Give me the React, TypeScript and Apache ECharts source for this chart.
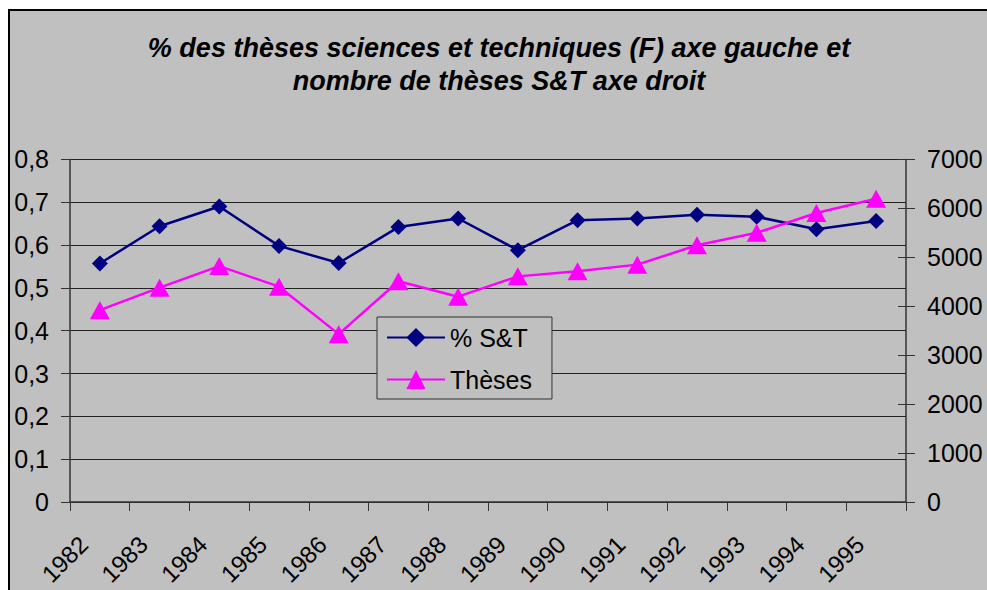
import React, { useEffect, useRef } from "react";
import * as echarts from "echarts";

const categories = ["1982", "1983", "1984", "1985", "1986", "1987", "1988", "1989", "1990", "1991", "1992", "1993", "1994", "1995"];
const pctST = [0.557, 0.644, 0.69, 0.598, 0.558, 0.642, 0.662, 0.588, 0.658, 0.662, 0.671, 0.666, 0.637, 0.656];
const theses = [3920, 4380, 4820, 4400, 3430, 4510, 4195, 4610, 4715, 4850, 5245, 5500, 5905, 6195];
const leftAxis = { min: 0, max: 0.8, step: 0.1 };
const rightAxis = { min: 0, max: 7000, step: 1000 };
const titleText = "% des thèses sciences et techniques (F) axe gauche et\nnombre de thèses S&T axe droit";
const seriesNames = ["% S&T", "Thèses"];

const FONT = "'Liberation Sans', Arial, sans-serif";

export default function App() {
  const ref = useRef<HTMLDivElement>(null);
  useEffect(() => {
    document.body.style.margin = "0";
    const chart = echarts.init(ref.current!, null, { renderer: "svg" });
    chart.setOption({
      animation: false,
      backgroundColor: "#ffffff",
      textStyle: { fontFamily: FONT },
      graphic: [
        {
          type: "rect",
          z: -10,
          silent: true,
          shape: { x: 9, y: 10, width: 978, height: 580 },
          style: { fill: "#c0c0c0" },
        },
        {
          type: "polyline",
          z: -9,
          silent: true,
          shape: { points: [[9, 590], [9, 10], [987, 10]] },
          style: { stroke: "#000000", lineWidth: 2, fill: null },
        },
      ],
      title: {
        text: titleText,
        left: 494,
        textAlign: "center",
        top: 26,
        textStyle: {
          fontFamily: FONT,
          fontSize: 27,
          fontWeight: "bold",
          fontStyle: "italic",
          color: "#000",
          lineHeight: 33,
        },
      },
      legend: {
        orient: "vertical",
        left: 377,
        top: 317,
        padding: [8, 20, 7, 9],
        itemGap: 17,
        itemWidth: 58,
        itemHeight: 24,
        borderColor: "#333",
        borderWidth: 1,
        backgroundColor: "#c0c0c0",
        textStyle: { fontFamily: FONT, fontSize: 25, color: "#000", lineHeight: 24 },
        data: seriesNames,
      },
      grid: { left: 70, right: 81, top: 159.4, bottom: 88, containLabel: false, outerBoundsMode: "none" },
      xAxis: {
        type: "category",
        data: categories,
        boundaryGap: true,
        axisLine: { lineStyle: { color: "#333", width: 1.5 } },
        axisTick: { show: true, length: 9, interval: 0, lineStyle: { color: "#333" } },
        axisLabel: {
          interval: 0,
          rotate: 45,
          margin: 22,
          padding: [0, 23, 0, 0],
          fontFamily: FONT,
          fontSize: 24,
          lineHeight: 24,
          color: "#000",
        },
        splitLine: { show: false },
      },
      yAxis: [
        {
          type: "value",
          position: "left",
          min: leftAxis.min,
          max: leftAxis.max,
          interval: leftAxis.step,
          axisLine: { show: true, lineStyle: { color: "#333", width: 1.5 } },
          axisTick: { show: true, length: 9, lineStyle: { color: "#333" } },
          axisLabel: {
            margin: 21,
            fontFamily: FONT,
            fontSize: 25,
            color: "#000",
            formatter: (v: number) => (Math.round(v * 10) / 10).toString().replace(".", ","),
          },
          splitLine: { show: true, lineStyle: { color: "#222", width: 1 } },
        },
        {
          type: "value",
          position: "right",
          min: rightAxis.min,
          max: rightAxis.max,
          interval: rightAxis.step,
          axisLine: { show: true, lineStyle: { color: "#333", width: 1.5 } },
          axisTick: { show: true, length: 9, lineStyle: { color: "#333" } },
          axisLabel: {
            margin: 21,
            fontFamily: FONT,
            fontSize: 25,
            color: "#000",
            formatter: (v: number) => String(Math.round(v)),
          },
          splitLine: { show: false },
        },
        {
          type: "value",
          position: "right",
          min: rightAxis.min,
          max: rightAxis.max,
          interval: rightAxis.step,
          axisLine: { show: false },
          axisTick: { show: true, inside: true, length: 8, lineStyle: { color: "#333" } },
          axisLabel: { show: false },
          splitLine: { show: false },
        },
      ],
      series: [
        {
          name: seriesNames[0],
          type: "line",
          yAxisIndex: 0,
          data: pctST,
          symbol: "diamond",
          symbolSize: 16,
          lineStyle: { color: "#000080", width: 2.5 },
          itemStyle: { color: "#000080" },
        },
        {
          name: seriesNames[1],
          type: "line",
          yAxisIndex: 1,
          data: theses,
          symbol: "triangle",
          symbolSize: [20, 18],
          lineStyle: { color: "#ff00ff", width: 2.5 },
          itemStyle: { color: "#ff00ff" },
        },
      ],
    });
    return () => chart.dispose();
  }, []);
  return <div ref={ref} style={{ position: "fixed", left: 0, top: 0, width: 987, height: 590 }} />;
}
